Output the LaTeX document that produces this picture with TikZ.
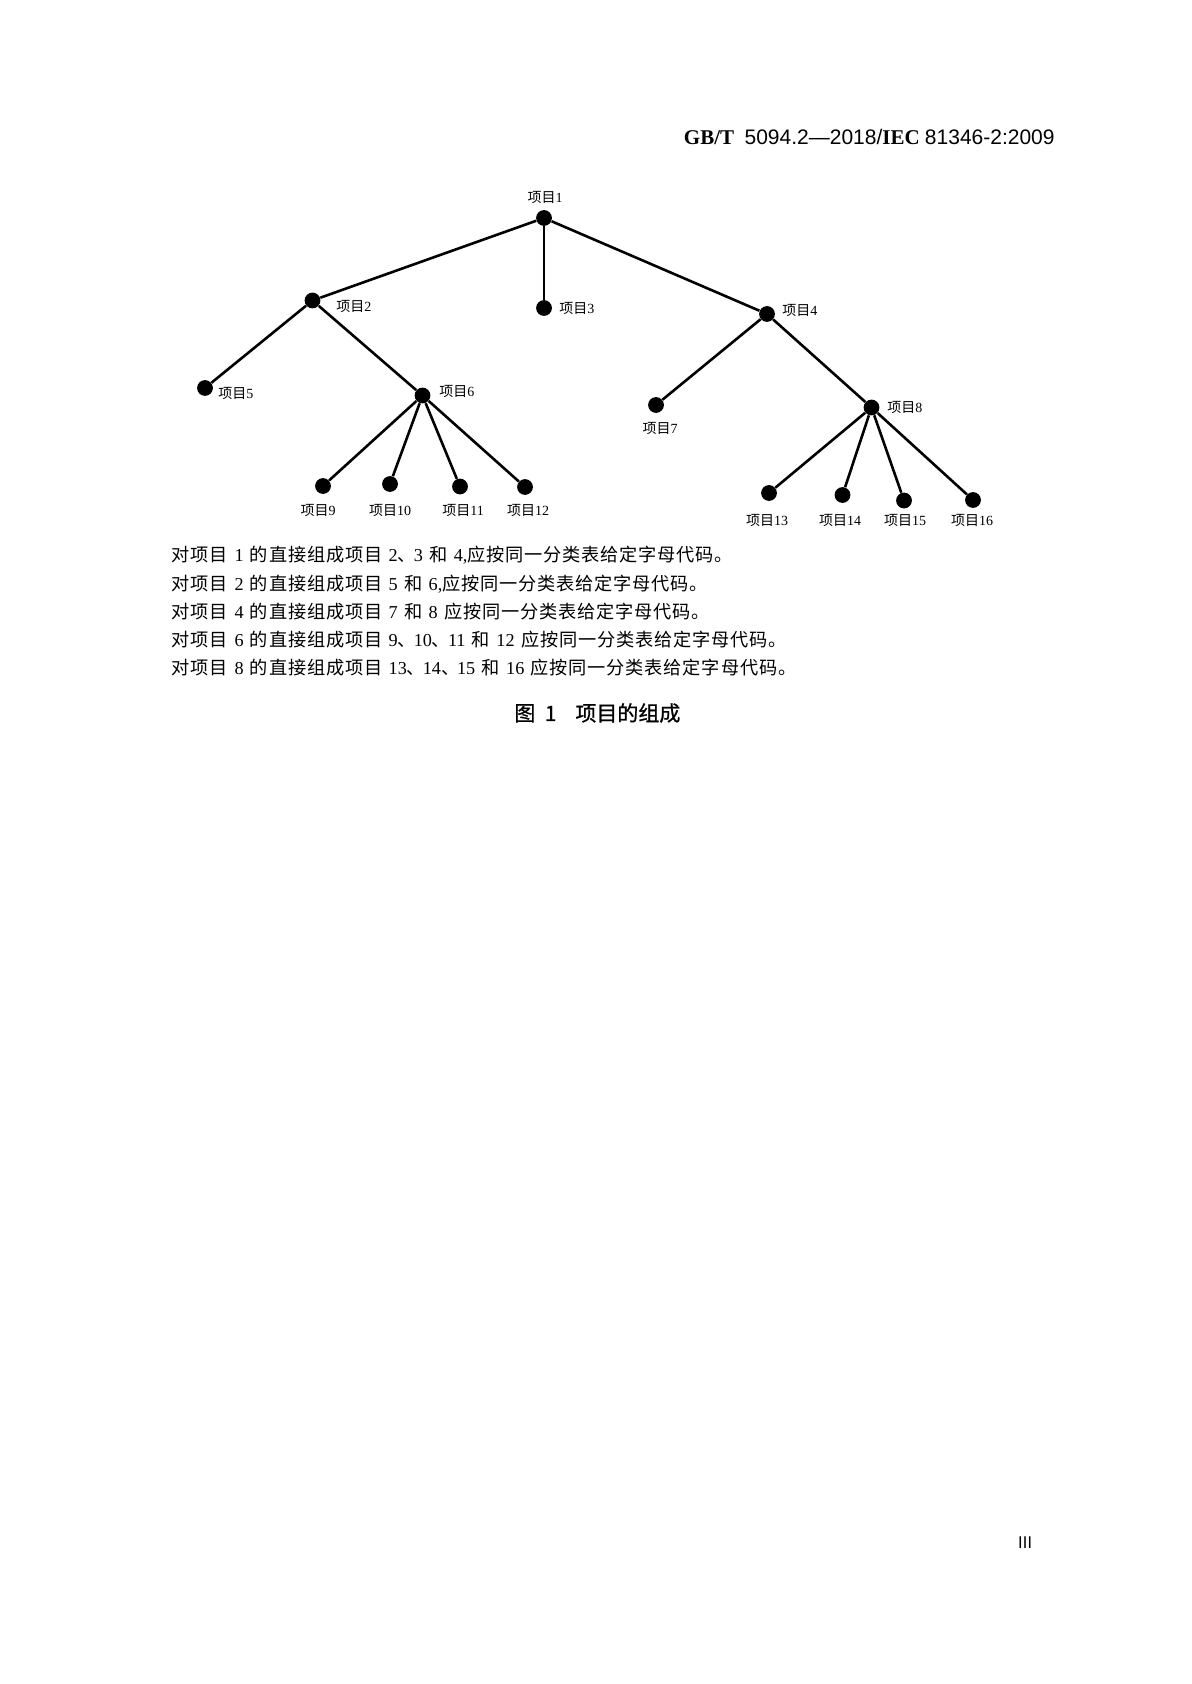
\documentclass[tikz,border=0pt]{standalone}
\usepackage{fontspec}
\setmainfont{Liberation Serif}
\newfontfamily\cjk{Noto Sans CJK SC}
\newfontfamily\cjkt[LetterSpace=4.5]{Noto Sans CJK SC}
\newfontfamily\hei[FakeBold=0.8]{Noto Sans CJK SC}
\newfontfamily\lsans{Liberation Sans}
\newcommand{\xm}[1]{{\cjk 项目}#1}
\newcommand{\gp}{\hspace{0.35em}}
\newcommand{\dunhao}{{\cjk 、}\hspace{-0.12em}}
\tikzset{
  dot/.style={circle, fill=black, inner sep=0pt, minimum size=7.9pt},
  lbl/.style={inner sep=0pt, font=\fontsize{7}{8}\selectfont},
  lblw/.style={lbl, anchor=west},
  edge/.style={line width=1.3pt},
  bodytext/.style={anchor=west, inner sep=0pt, font=\fontsize{9.1}{11}\selectfont},
}
\begin{document}
\begin{tikzpicture}[x=0.5pt,y=-0.5pt]
\useasboundingbox (0,0) rectangle (1191,1684);
\fill[white] (0,0) rectangle (1191,1684);

% header
\node[anchor=east, inner sep=0pt, font=\fontsize{10.5}{12}\selectfont] (hdr) at (1055,137)
  {{\bfseries GB/T}\hspace{0.5em}{\lsans 5094.2—2018/}{\bfseries IEC}\hspace{0.25em}{\lsans 81346-2:2009}};

% dots
\node[dot] (n1) at (544,218) {};
\node[dot] (n2) at (312.5,300.5) {};
\node[dot] (n3) at (544,308) {};
\node[dot] (n4) at (767,314) {};
\node[dot] (n5) at (205,388) {};
\node[dot] (n6) at (422.5,395.5) {};
\node[dot] (n7) at (656,405) {};
\node[dot] (n8) at (871.5,407.5) {};
\node[dot] (n9) at (323,486) {};
\node[dot] (n10) at (390,484) {};
\node[dot] (n11) at (460,486.5) {};
\node[dot] (n12) at (525,487) {};
\node[dot] (n13) at (769,493) {};
\node[dot] (n14) at (842.5,495) {};
\node[dot] (n15) at (904,500.5) {};
\node[dot] (n16) at (973,500) {};

% edges
\draw[edge] (n1) -- (n2);
\draw[edge] (n1) -- (n3);
\draw[edge] (n1) -- (n4);
\draw[edge] (n2) -- (n5);
\draw[edge] (n2) -- (n6);
\draw[edge] (n4) -- (n7);
\draw[edge] (n4) -- (n8);
\draw[edge] (n6) -- (n9);
\draw[edge] (n6) -- (n10);
\draw[edge] (n6) -- (n11);
\draw[edge] (n6) -- (n12);
\draw[edge] (n8) -- (n13);
\draw[edge] (n8) -- (n14);
\draw[edge] (n8) -- (n15);
\draw[edge] (n8) -- (n16);

% labels
\node[lbl] (l1) at (545,197) {\xm{1}};
\node[lblw] (l2) at (336,306) {\xm{2}};
\node[lblw] (l3) at (559,308) {\xm{3}};
\node[lblw] (l4) at (782,310) {\xm{4}};
\node[lblw] (l5) at (218,393) {\xm{5}};
\node[lblw] (l6) at (439,391) {\xm{6}};
\node[lbl] (l7) at (660,428) {\xm{7}};
\node[lblw] (l8) at (887,407) {\xm{8}};
\node[lbl] (l9) at (318,510) {\xm{9}};
\node[lbl] (l10) at (390,510) {\xm{10}};
\node[lbl] (l11) at (463,510) {\xm{11}};
\node[lbl] (l12) at (528,510) {\xm{12}};
\node[lbl] (l13) at (767,520) {\xm{13}};
\node[lbl] (l14) at (840,520) {\xm{14}};
\node[lbl] (l15) at (905,520) {\xm{15}};
\node[lbl] (l16) at (972,520) {\xm{16}};

% body text
\node[bodytext] (t1) at (171.5,555) {{\cjkt 对项目}\gp 1\gp{\cjkt 的直接组成项目}\gp 2\dunhao 3\gp{\cjkt 和}\gp 4,{\cjkt 应按同一分类表给定字母代码。}};
\node[bodytext] (t2) at (171.5,584) {{\cjkt 对项目}\gp 2\gp{\cjkt 的直接组成项目}\gp 5\gp{\cjkt 和}\gp 6,{\cjkt 应按同一分类表给定字母代码。}};
\node[bodytext] (t3) at (171.5,612) {{\cjkt 对项目}\gp 4\gp{\cjkt 的直接组成项目}\gp 7\gp{\cjkt 和}\gp 8\gp{\cjkt 应按同一分类表给定字母代码。}};
\node[bodytext] (t4) at (171.5,640) {{\cjkt 对项目}\gp 6\gp{\cjkt 的直接组成项目}\gp 9\dunhao 10\dunhao 11\gp{\cjkt 和}\gp 12\gp{\cjkt 应按同一分类表给定字母代码。}};
\node[bodytext] (t5) at (171.5,668) {{\cjkt 对项目}\gp 8\gp{\cjkt 的直接组成项目}\gp 13\dunhao 14\dunhao 15\gp{\cjkt 和}\gp 16\gp{\cjkt 应按同一分类表给定字母代码。}};

% caption
\node[anchor=west, inner sep=0pt, font=\fontsize{10.5}{12}\selectfont\hei] (cap) at (514,713)
  {图\hspace{0.45em}1\hspace{0.9em}项目的组成};

% page number
\node[inner sep=0pt, font=\fontsize{8}{9}\selectfont\cjk] (pg) at (1025,1543) {Ⅲ};
\end{tikzpicture}
\end{document}
